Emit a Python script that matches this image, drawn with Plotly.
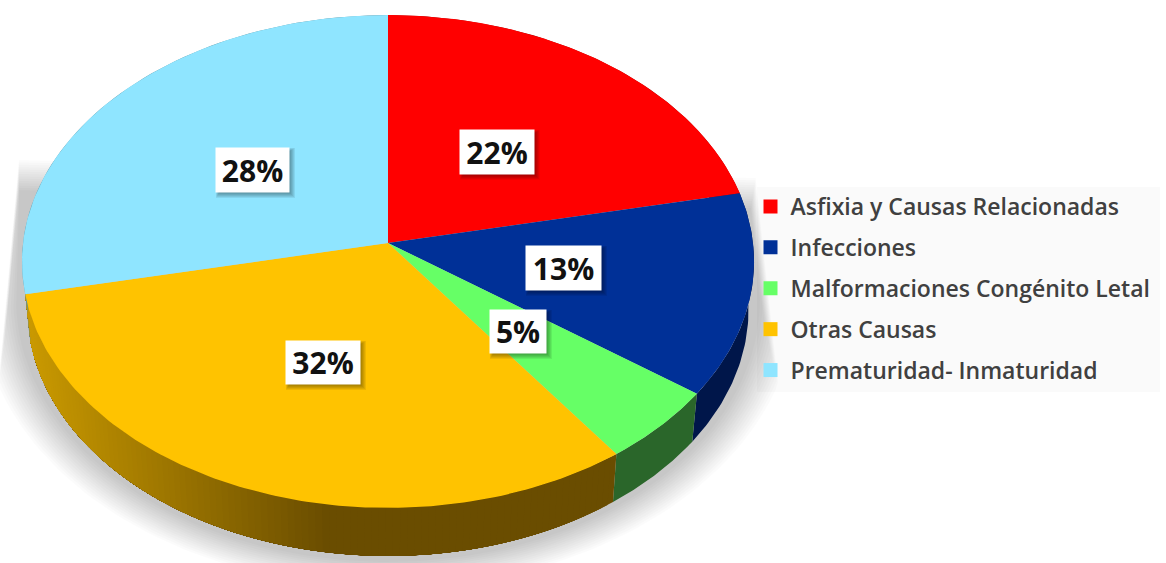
import numpy as np
import plotly.graph_objects as go

# ---- data ----
categories = ["Asfixia y Causas Relacionadas", "Infecciones", "Malformaciones Congénito Letal",
              "Otras Causas", "Prematuridad- Inmaturidad"]
values = [21.7, 13.3, 5.0, 31.7, 28.3]
top_colors = ["#ff0000", "#003097", "#66ff66", "#ffc300", "#8fe5ff"]
side_colors = ["#a00000", "#00164a", "#2a662a", "#6a4d00", "#5a90a0"]
label_boxes = [(459, 535, 129, 175), (525, 602, 245, 291), (489, 547, 309, 354),
               (285, 361, 340, 385), (215, 290, 147, 193)]

# ---- geometry of the tilted pie (perspective projection of a circle) ----
CX, CY, A, B, K = 388.0, 243.0, 365.0, 245.0, 0.075
DEPTH, SHRINK = 48.0, 0.985


def rim(frac, scale=1.0, dy=0.0):
    th = 2 * np.pi * np.asarray(frac)
    u, v = np.sin(th), np.cos(th)
    d = 1 + K * v
    return CX + scale * A * u / d, CY - B * v / d + dy


def lerp(c0, c1, t):
    return "rgb(%d,%d,%d)" % tuple(round(a + (b - a) * t) for a, b in zip(c0, c1))


fig = go.Figure()


def poly(x, y, color):
    fig.add_trace(go.Scatter(x=list(x), y=list(y), mode="lines", fill="toself", fillcolor=color,
                             line=dict(color="rgba(0,0,0,0)", width=0),
                             hoverinfo="skip", showlegend=False))


# ---- soft shadow ----
N = 14
for i in range(N):
    s = i / (N - 1)
    rx, ry = 408 - 36 * s, 288 - 26 * s
    t = np.linspace(np.pi, 0, 121)
    x = 388 + rx * np.cos(t)
    y = 300 + ry * np.sin(t)
    top_l = 160 + 30 * s
    top_r = 178 + 30 * s
    lx = 18 + (y - 170) * (-18 / 195) + 3 * s
    rxl = 757 + (y - 190) * (23 / 210) - 8 * s
    x = np.minimum(np.maximum(x, lx), rxl)
    keep = y >= top_r
    xs = [18 + 3 * s + (top_l - 170) * (-18 / 195)] + list(x[keep]) + [757 - 8 * s + (top_r - 190) * (23 / 210)]
    ys = [top_l] + list(y[keep]) + [top_r]
    poly(xs, ys, "rgba(0,0,0,0.0158)")

# ---- pie side walls ----
total = sum(values)
edges = np.concatenate([[0], np.cumsum(values)]) / total
for i, col in enumerate(side_colors):
    f0, f1 = edges[i], edges[i + 1]
    if i == 3:  # orange wall fades towards the left; each band runs under the next one
        fr = np.linspace(f0, f1, 111)
        for a in fr[:-1]:
            ff = np.linspace(a, f1, 70)
            tt = float(np.clip((330 - rim(a)[0]) / 300, 0, 1))
            xt, yt = rim(ff)
            xb, yb = rim(ff, SHRINK, DEPTH)
            poly(list(xt) + list(xb[::-1]), list(yt) + list(yb[::-1]),
                 lerp((0x6a, 0x4d, 0x00), (0xc9, 0x99, 0x00), tt))
    else:
        ff = np.linspace(f0, f1, 60)
        xt, yt = rim(ff)
        xb, yb = rim(ff, SHRINK, DEPTH)
        poly(list(xt) + list(xb[::-1]), list(yt) + list(yb[::-1]), col)

# ---- pie top ----
for i, col in enumerate(top_colors):
    ff = np.linspace(edges[i], edges[i + 1], 120)
    xt, yt = rim(ff)
    poly([CX] + list(xt), [CY] + list(yt), col)

# ---- legend entries ----
for i, name in enumerate(categories):
    fig.add_trace(go.Scatter(x=[None], y=[None], mode="markers", name=name, legendgroup=name,
                             marker=dict(symbol="square", size=14, color=top_colors[i])))

# ---- label shadows and labels ----
shapes = [dict(type="rect", layer="below", xref="x", yref="y", x0=757, x1=1160, y0=187, y1=392,
               fillcolor="#fafafa", line=dict(width=0))]
annotations = []
for (x0, x1, y0, y1), v in zip(label_boxes, values):
    for k in range(6):
        shapes.append(dict(type="rect", layer="above", xref="x", yref="y",
                           x0=x0 + 4 - 0.6 * k, x1=x1 + k, y0=y0 + 4 - 0.6 * k, y1=y1 + k,
                           fillcolor="rgba(0,0,0,0.07)", line=dict(width=0)))
    annotations.append(dict(x=(x0 + x1) / 2, y=(y0 + y1) / 2, xref="x", yref="y", text=f"{round(v)}%",
                            showarrow=False, bgcolor="#ffffff", width=x1 - x0 - 2, height=y1 - y0 - 2,
                            borderpad=0, align="center", valign="middle",
                            font=dict(family="Open Sans", size=30, color="#111111", weight="bold")))

fig.update_layout(
    width=1166, height=563, margin=dict(l=0, r=0, t=0, b=0),
    paper_bgcolor="#ffffff", plot_bgcolor="#ffffff",
    xaxis=dict(range=[0, 1166], visible=False, fixedrange=True),
    yaxis=dict(range=[563, 0], visible=False, fixedrange=True),
    shapes=shapes, annotations=annotations,
    legend=dict(x=750.5 / 1166, y=1 - 185 / 563, xanchor="left", yanchor="top",
                bgcolor="rgba(0,0,0,0)", tracegroupgap=8, itemwidth=30,
                font=dict(family="Open Sans", size=23, color="#404040", weight=600)),
)
fig.write_html("out.html", config={"displayModeBar": False},
               post_script="document.body.style.margin='0';")
